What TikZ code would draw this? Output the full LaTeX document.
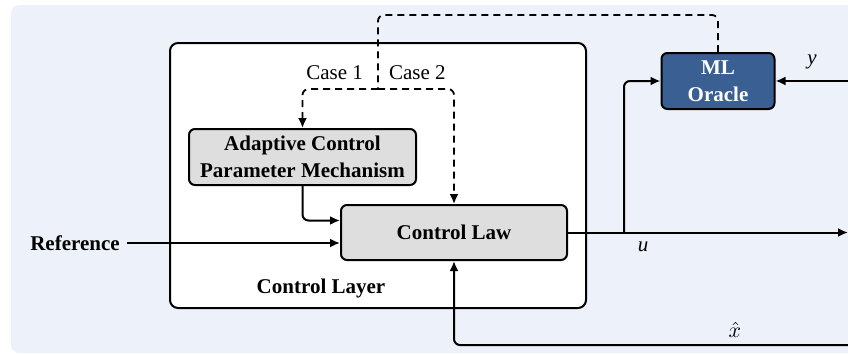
\documentclass[tikz,border=0pt]{standalone}
\usepackage{fontspec}
\setmainfont{Liberation Serif}
\usetikzlibrary{arrows.meta}

\definecolor{bgblue}{HTML}{EDF1F9}
\definecolor{boxgray}{HTML}{DEDEDE}
\definecolor{oracleblue}{HTML}{3A6093}

\tikzset{
  box/.style={draw, line width=1pt, rounded corners=3pt, fill=boxgray,
    align=center, font=\fontsize{10.5}{13.5}\selectfont\bfseries},
  arr/.style={line width=1pt, -{Latex[length=5pt,width=4.5pt]}},
  dashline/.style={line width=0.9pt, dash pattern=on 3.5pt off 2.5pt}
}

\begin{document}
\begin{tikzpicture}[x=0.5pt,y=-0.5pt, font=\fontsize{10.5}{13.5}\selectfont]
			\useasboundingbox (0,0) rectangle (848,354);
			% background and layer
			\fill [bgblue, rounded corners=4pt] (11,5) rectangle (870,353);
			\draw [line width=1pt, fill=white, rounded corners=4pt] (170,43) rectangle (586,308);
			\node (layer) at (321,288) {\textbf{Control Layer}};
			% blocks
			\node [box, minimum width=113pt, minimum height=27.5pt] (law) at (454,232.5) {Control Law};
			\node [box, minimum width=113.5pt, minimum height=28pt, inner sep=1pt] (acpm) at (302.5,157) {Adaptive Control\\Parameter Mechanism};
			\node [box, fill=oracleblue, text=white, minimum width=56.5pt, minimum height=28pt, inner sep=1pt] (oracle) at (718,81) {ML\\Oracle};
			\node (ref) at (75,243) {\textbf{Reference}};
			% free ends
			\coordinate (uout) at (848,232.5);
			\coordinate (yin) at (848,81);
			\coordinate (xin) at (848,345);
			\coordinate (branch) at (624,232.5);
			\coordinate (top) at (378,15);
			\coordinate (split) at (378,89);
			% solid connectors
			\draw [arr] (ref.east) -- (law.west |- ref);
			\draw [arr, rounded corners=3pt] (acpm.south) |- ([yshift=6pt]law.west);
			\draw [arr] (law.east) -- (uout);
			\draw [arr, rounded corners=3pt] (branch) |- (oracle.west);
			\draw [arr] (yin) -- (oracle.east);
			\draw [arr, rounded corners=3pt] (xin) -| (law.south);
			% dashed connectors
			\draw [dashline, rounded corners=3pt] (oracle.north) |- (top) -- (split);
			\draw [dashline, rounded corners=3pt, -{Latex[length=5pt,width=4.5pt]}] (split) -| (acpm.north);
			\draw [dashline, rounded corners=3pt, -{Latex[length=5pt,width=4.5pt]}] (split) -| (law.north);
			% labels
			\node [anchor=east] (case1) at (370,73) {Case 1};
			\node [anchor=west] (case2) at (382,73) {Case 2};
			\node (u) at (643,247) {\textit{u}};
			\node (y) at (812,62) {\textit{y}};
			\node (xhat) at (735,330) {$\hat{x}$};
		\end{tikzpicture}
\end{document}
